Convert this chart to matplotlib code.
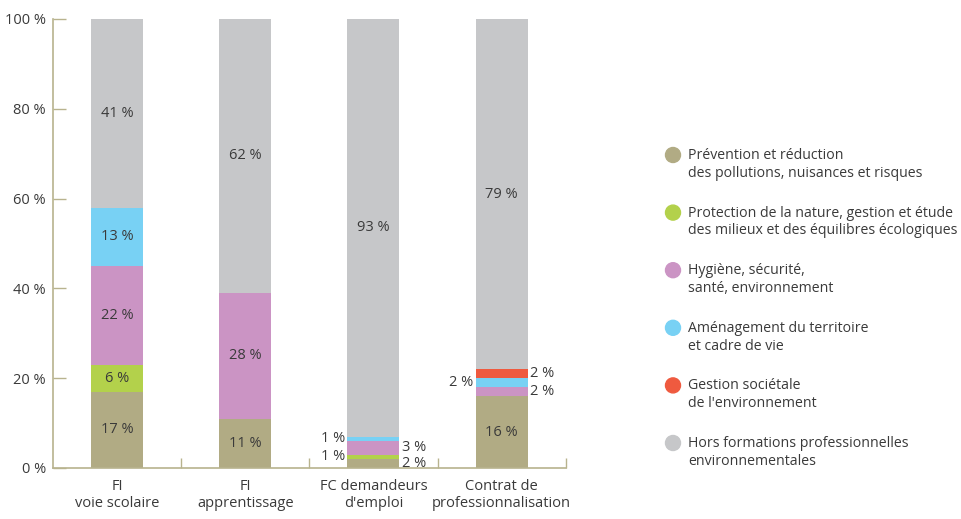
import numpy as np
import matplotlib.pyplot as plt
from matplotlib.patches import Ellipse

plt.rcParams['font.family'] = ['Open Sans', 'DejaVu Sans']

categories = ['FI\nvoie scolaire', 'FI\napprentissage', 'FC demandeurs\nd\'emploi',
              'Contrat de\nprofessionnalisation']
series = ['Prévention et réduction\ndes pollutions, nuisances et risques',
          'Protection de la nature, gestion et étude\ndes milieux et des équilibres écologiques',
          'Hygiène, sécurité,\nsanté, environnement',
          'Aménagement du territoire\net cadre de vie',
          'Gestion sociétale\nde l\'environnement',
          'Hors formations professionnelles\nenvironnementales']
colors = ['#b1ab84', '#b3d14b', '#cb94c4', '#78d1f4', '#ef5a3f', '#c6c7c9']

prevention = [17, 11, 2, 16]
protection = [6, 0, 1, 0]
hygiene = [22, 28, 3, 2]
amenagement = [13, 0, 1, 2]
gestion = [0, 0, 0, 2]
hors = [41, 62, 93, 79]
values = [prevention, protection, hygiene, amenagement, gestion, hors]

# small labels placed beside the bar: (bar, series) -> side
outside = {(2, 3): 'left', (2, 1): 'left', (2, 2): 'right', (2, 0): 'right',
           (3, 3): 'left', (3, 4): 'right', (3, 2): 'right'}

txt = '#3a3a3a'
axcol = '#b8b38e'

fig = plt.figure(figsize=(9.62, 5.19), dpi=100)
ax = fig.add_axes([0.0551, 0.0983, 0.533, 0.8651])

x = np.arange(len(categories))
w = 0.406
bottom = np.zeros(len(categories))
for s, vals in enumerate(values):
    vals = np.array(vals, dtype=float)
    heights = 100 - bottom if s == len(values) - 1 else vals
    ax.bar(x, heights, w, bottom=bottom, color=colors[s], linewidth=0)
    for i in range(len(categories)):
        if vals[i] == 0:
            continue
        yc = bottom[i] + heights[i] / 2
        side = outside.get((i, s))
        label = '%d %%' % vals[i]
        if side == 'left':
            ax.text(x[i] - w / 2 - 0.02, yc, label, ha='right', va='center', fontsize=10.5, color=txt)
        elif side == 'right':
            ax.text(x[i] + w / 2 + 0.02, yc, label, ha='left', va='center', fontsize=10.5, color=txt)
        else:
            ax.text(x[i], yc, label, ha='center', va='center', fontsize=10.5, color=txt)
    bottom = bottom + heights

ax.set_xlim(-0.5, 3.5)
ax.set_ylim(0, 100)
ax.set_yticks([0, 20, 40, 60, 80, 100])
ax.set_yticklabels(['%d %%' % v for v in [0, 20, 40, 60, 80, 100]])
ax.set_xticks(x)
ax.set_xticklabels(categories)
ax.set_xticks([0.5, 1.5, 2.5, 3.5], minor=True)
ax.tick_params(axis='x', which='major', length=0, pad=8, labelsize=10.5, labelcolor=txt)
ax.tick_params(axis='x', which='minor', direction='in', length=7.5, width=1, color=axcol)
ax.tick_params(axis='y', direction='in', length=9.5, width=1, color=axcol, labelsize=10.5,
               labelcolor=txt, pad=5)
for sp in ['top', 'right']:
    ax.spines[sp].set_visible(False)
for sp in ['left', 'bottom']:
    ax.spines[sp].set_color(axcol)
    ax.spines[sp].set_linewidth(1.2)

# legend
for k, name in enumerate(series):
    yy = 1 - (155 + k * 57.6) / 519
    fig.add_artist(Ellipse((673 / 962, yy), 15 / 962, 15 / 519, transform=fig.transFigure,
                           color=colors[k]))
    fig.text(688 / 962, yy + 7 / 519, name, ha='left', va='top', fontsize=10.2, color=txt,
             linespacing=1.25)

fig.savefig('out.png', dpi=100)
